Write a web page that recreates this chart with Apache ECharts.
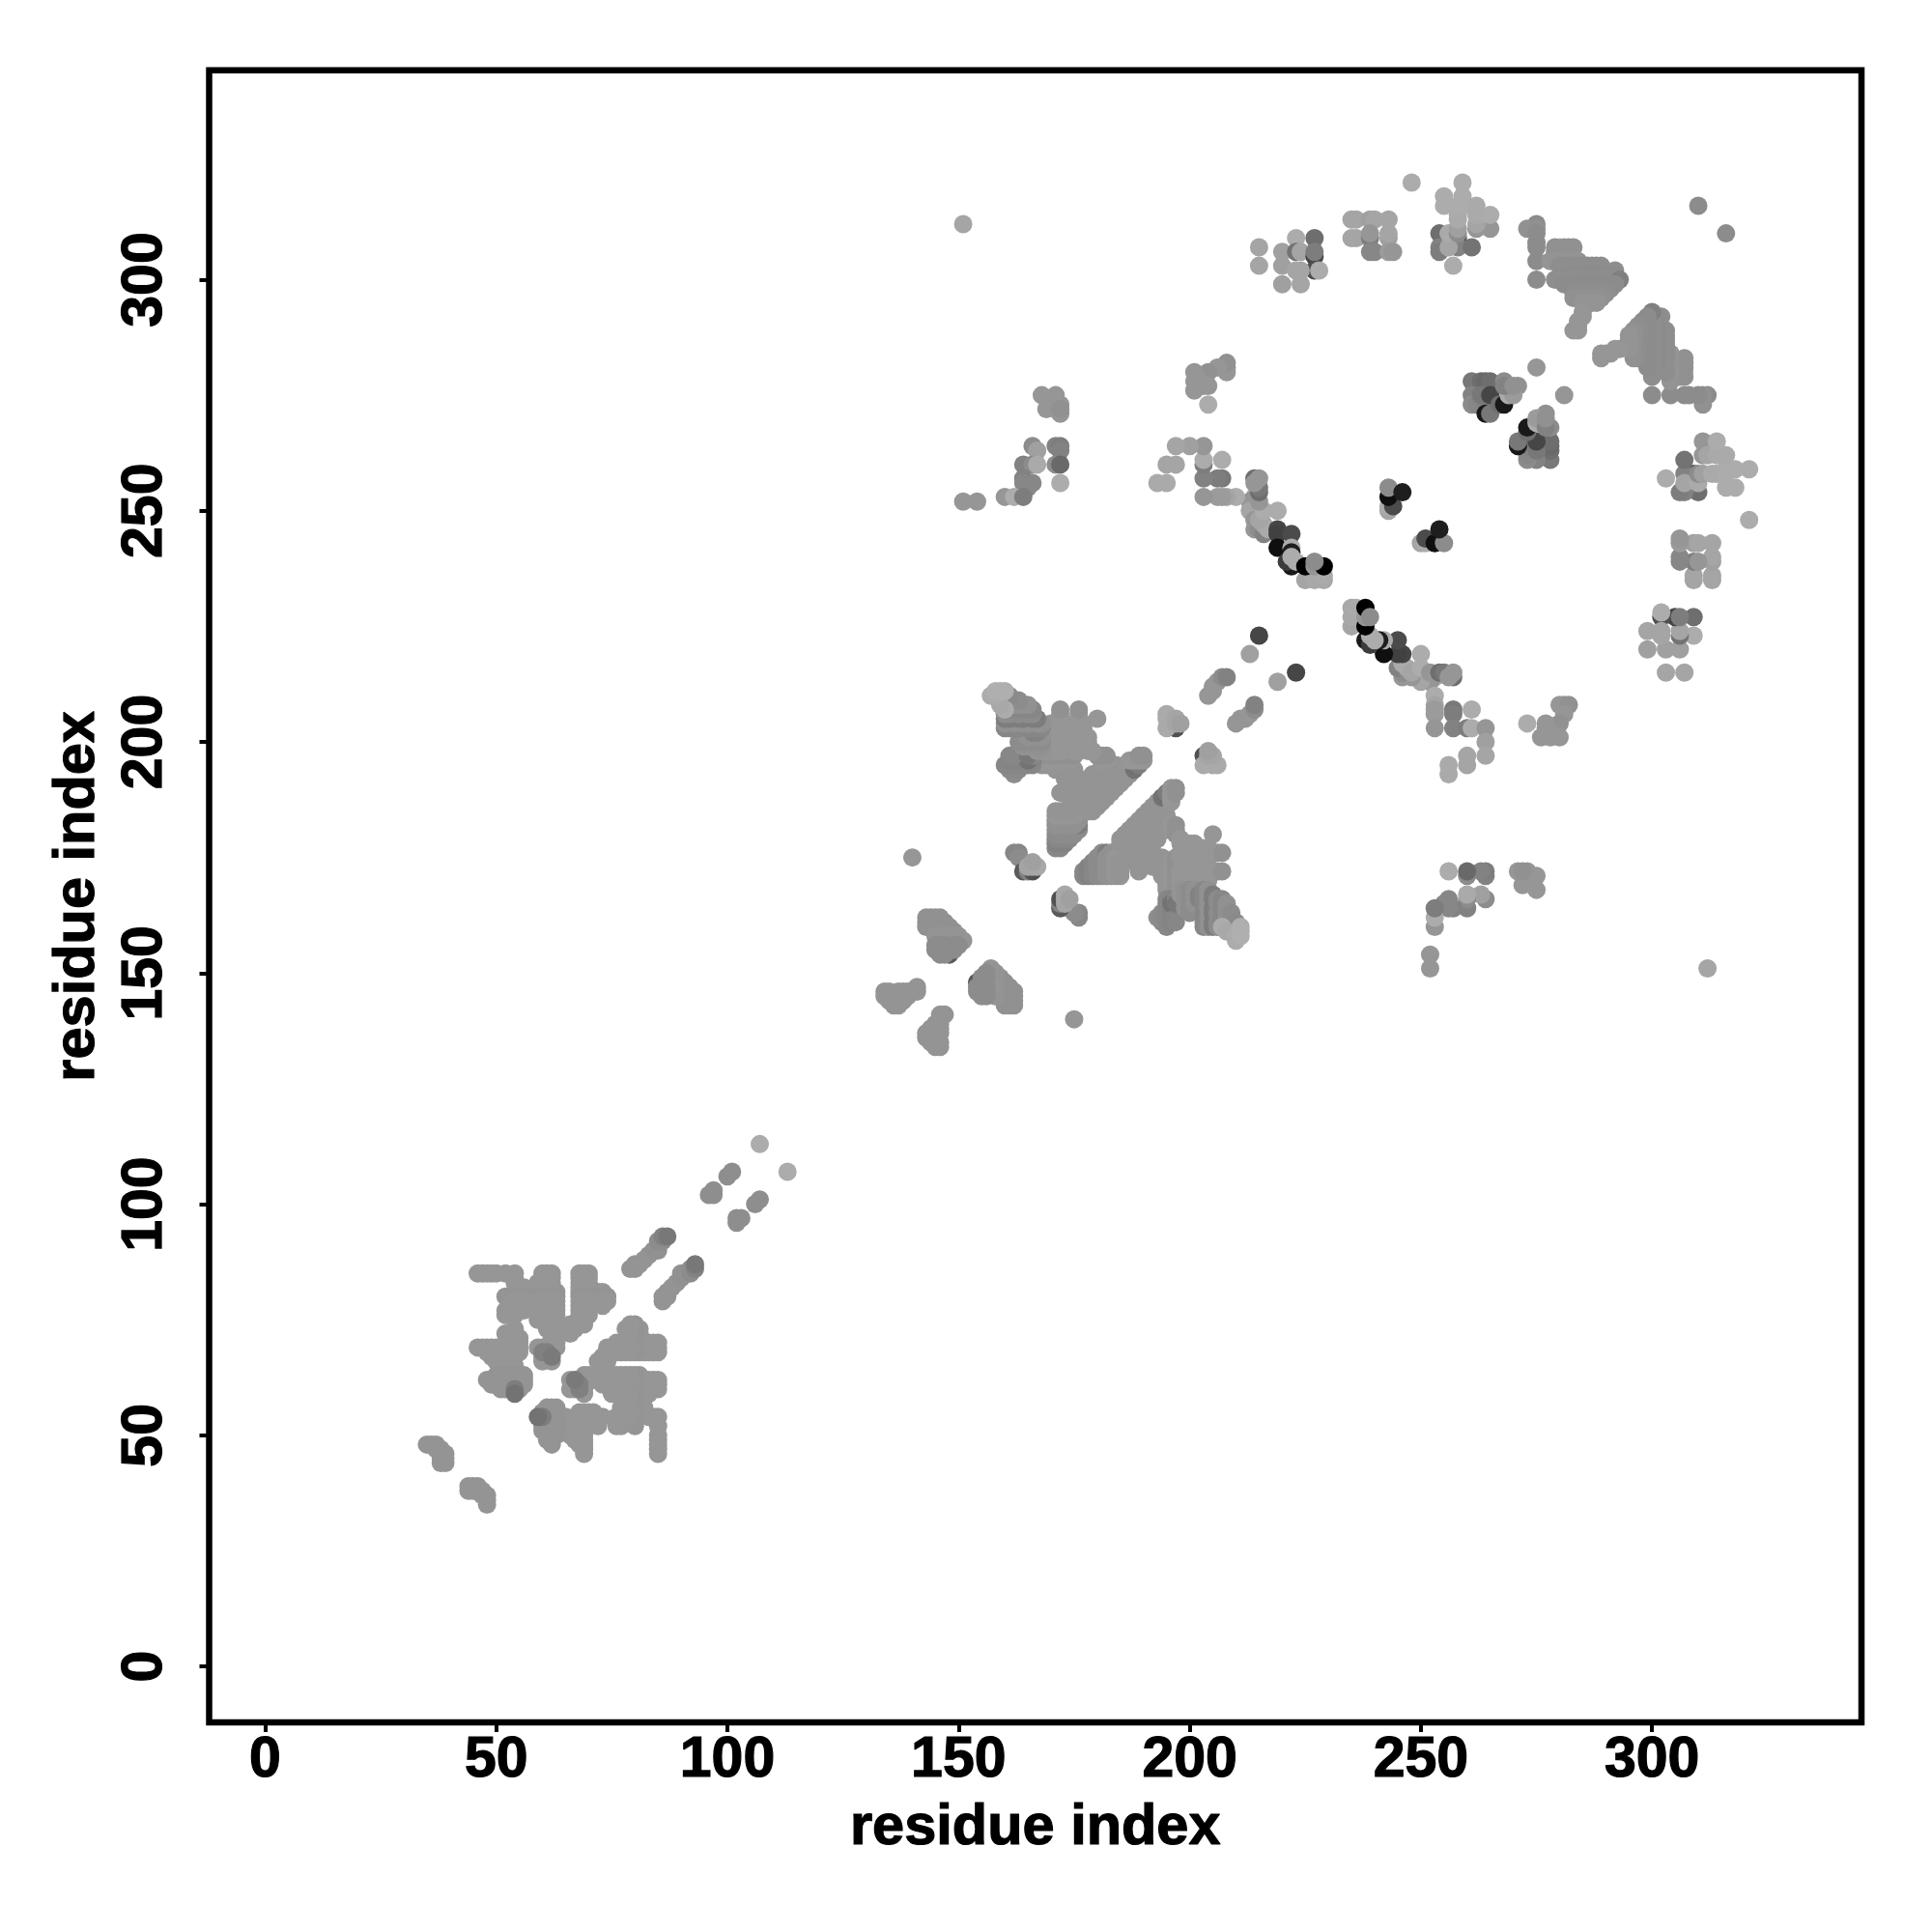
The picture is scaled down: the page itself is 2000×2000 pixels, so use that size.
<!DOCTYPE html>
<html><head><meta charset="utf-8">
<style>html,body{margin:0;padding:0;background:#fff}#c{width:2000px;height:2000px}</style>
<script src="https://cdn.jsdelivr.net/npm/echarts@6/dist/echarts.min.js"></script>
</head><body><div id="c"></div>
<script>
const tickValues = [0, 50, 100, 150, 200, 250, 300];
const axisTitle = "residue index";

// Contacts are residue pairs; rows read [higher residue, [lower residues], grey level]
const tailA = [[48,[35,36,37],148],[47,[37,38],148],[46,[38,39],148],[45,[38,39],148],[44,[38,39],148]];
const sheetA = [
 [85,[46,47,48,49,50,52,54,60,61,62,68,69,70],150],[84,[54,60,61,62,68,69,70],150],
 [83,[54,59,60,61,62,68,69,70],150],[82,[55,56,59,60,61,62,68,69,70],150],
 [81,[56,59,60,61,62,63,68,69,70,72,73],150],[80,[52,53,54,55,56,58,59,60,61,62,63,68,69,70,71,72,73,74],148],
 [79,[54,55,56,59,60,61,62,63,68,69,70,73,74],150],[78,[53,54,55,56,59,60,61,62,63,68,69,70,73],150],
 [77,[52,53,54,55,56,59,60,61,62,63,68,69,70],150],[76,[52,54,59,60,61,62,63,68,69,70],150],
 [75,[59,60,61,62,63,68,69],150],[74,[61,62,63,66,68,69],150],[73,[54,61,62,63,66,67],150],
 [72,[52,54,62,63,66],150],[71,[54,55,62],150],[70,[52,54,55,62,63],150],
 [69,[46,47,48,49,50,51,52,53,54,55,59,60,61,62,63],150],[68,[48,49,50,51,52,53,54,55,62],150],
 [67,[49,50,51,52,53,54,60,61],150],[66,[50,51,52,53,60,62],150],[65,[51,52,54],150],
 [63,[50,51,52,53,54,55,56],148],[62,[48,49,50,51,52,53,54,55,56],148],[61,[49,50,51,52,53,54,55,56],148],
 [60,[51,52,53,55],148],[60,[54],125],[59,[54],115],[68,[60,61],128],[67,[62],122]];
const strandA = [[86,[79,80],148],[87,[80,81],148],[88,[82],148],[89,[83],148],[90,[84,85],145],[91,[85],145],[92,[85,86],140],[93,[86],130],[93,[87],120],
 [102,[96,97],142],[103,[97],142],[106,[100],142],[107,[101],142],[113,[107],172]];
const sheetB = [[147,[141],148],[146,[134,135,137,138,139,140,141],148],[145,[134,135,136,137,138,139],148],[144,[135,136,137,138],148],[143,[136,137],148]];
const sheetC = [[156,[148],90],[155,[148],70],[154,[148],90],[162,[143,144,145,146],145],[161,[143,144,146,147],145],[160,[143,145,146,147,148],145],
 [159,[145,146,147,148,149],145],[158,[145,146,147,148,149,150],148],[157,[146,147,148,149,150,151],148],[156,[145,146,147,149,150],140],[155,[145,146,147,149],140],[154,[146,147],140]];
const diamondCore = [
 [185,[179,178],148],[186,[180,179,178],148],[187,[181,180,179,178,177,176],148],[188,[182,181,180,178,175,174],148],
 [189,[183,182,181,180,179,178,176,174,173,172],148],[190,[184,183,182,181,180,178,177,175],148],[191,[185,184,183,182,181,179,177,176,174],148],
 [192,[186,185,184,183,181,180,178,176,175,173],148],[193,[187,186,185,184,182,181,179,175,174,173],148],
 [194,[187,186,185,183,182,175,174,173,172,171],148],[195,[187,186,184,182,181,174,173,172,171,170,169,168],148],
 [194,[188],115],[195,[188],112],[195,[189],125],[196,[190,189,188,187,182,181,174,172,170,168],150],[197,[190,189,182,181,180,175,174,172,170,168],145],
 [198,[179,178,176,175,172,171,170,169],150],[199,[178,177,176,175,173,172,171,170,169],150],[200,[178,177,176,174,172,171,169],150],
 [201,[178,177,175,174,173,171,170],150],[202,[177,176,175,173,172,170,169],150],[203,[177,176,175,174,172,171,169],150],
 [204,[177,176,175,173,172,170],150],[205,[180,176,172],150],[206,[176,172],150],[207,[176,172],145]];
const diamondTriangle = [[177,[172,171],135],[178,[173,172,171],130],[179,[174,173,172,171],135],[180,[175,174,173,172,171],140],[181,[176,175,174,173,172,171],140],
 [182,[176],125],[182,[175,174,173,172,171],145],[183,[176,175,174,173,172,171],145],[184,[175,174,173,172,171],150],[185,[174,173,172,171],148]];
const diamondArm = [
 [193,[162],142],[194,[163,162,161],138],[195,[166,165,164,163,162,161,160],135],[196,[166,163,162,161],132],[196,[165],115],[197,[166,162,161],135],[197,[165],120],
 [198,[168,167],148],[199,[168,167,165,164],145],[200,[168,166,164,163],140],[201,[168,167,165],145],[202,[167,166],130],
 [203,[168,166,165,163,162,161,160],135],[204,[168,167,165,164,162,160],145],[205,[167,166,164,163,161,160],125],[206,[166,165,163,161,160],140],
 [207,[166,165,164,162,161],135],[208,[165,164,163,162,160],145],[209,[163,162,161,160,159],140],[210,[161,160,159],138],
 [207,[160],172],[208,[159],168],[210,[158,157],172],[211,[160,159,158],175]];
const nearDiamond = [[140,175,150],[162,176,135],[163,176,135],[163,175,140],[164,174,140],[164,172,90],[165,172,130],[166,172,80],[165,173,165],[166,173,165],[167,173,168],[166,174,160],
 [197,203,80],[195,206,170],[195,205,170],[195,203,170],[197,204,165],[197,205,165],[198,204,160],
 [204,210,150],[205,211,150],[205,212,150],[206,213,150],[207,214,140],[208,214,130],[213,219,160],[215,223,70]];
const strandB = [
 [214,253,160],[213,252,150],[215,250,100],[213,250,165],[214,248,150],[214,246,150],[215,246,140],[216,245,130],[216,247,165],[217,246,170],[215,248,165],[216,250,172],[219,250,172],
 [214,257,110],[215,252,150],[215,254,110],[215,255,120],[214,256,150],[215,257,150],
 [219,246,70],[219,245,65],[222,245,75],[219,242,15],[222,242,172],[222,241,30],
 [225,235,165],[227,235,168],[229,235,168],[229,236,170],[222,238,25],[221,239,60],[223,239,172],[222,240,172],[225,238,0],[227,238,150],[229,238,0],[227,239,140]];
const loopPairs = [[243,250,165],[243,251,170],[244,251,75],[243,253,15],[243,255,140],[246,254,30]];
const midLoop = [[210,253,172],[208,253,165],[207,253,155],[206,253,155],[203,253,150],[207,257,120],[206,257,125],[203,257,130],[203,260,125],[207,261,172],[203,261,172],
 [203,264,150],[200,264,160],[197,264,165],[197,260,165],[195,260,165],[195,256,170],[193,256,170],
 [208,281,145],[208,280,150],[208,282,145],[206,281,150],[204,280,145],[204,277,150],[203,277,150],[202,278,150],[201,276,150],[201,280,150],[201,278,150],[204,273,172]];
const cluster170 = [[172,271,150],[171,272,150],[169,272,150],[170,273,150],[172,273,150],[168,275,150],[171,275,150],[171,274,150],[172,272,145],
 [166,264,140],[171,264,130],[172,264,125],[172,263,130],[167,263,160],[164,260,130],[166,260,140],[171,260,140],[172,260,105],[167,260,170],[172,256,172],
 [164,257,130],[164,256,135],[166,256,135],[165,255,135],[160,253,150],[162,253,172],[164,253,125],[151,252,150],[154,252,150],[151,312,165]];
const cluster220 = [[215,307,165],[215,303,165],[220,306,160],[220,303,160],[220,299,160],[223,309,172],[227,309,110],[223,306,115],[224,306,165],[227,305,70],[227,306,125],[227,302,80],[223,302,165],[224,302,165],[228,302,172],[224,299,165]];
const cluster240 = [[235,313,165],[236,313,165],[239,313,160],[240,313,165],[243,313,165],[235,309,165],[236,309,165],[239,309,125],[239,310,150],[243,309,160],[243,310,165],[239,306,135],[240,306,135],[243,306,155],[244,306,150]];
const cluster260 = [[248,321,172],[254,310,110],[258,309,85],[254,307,130],[254,306,125],[258,307,130],[261,307,115],[257,303,172],[256,307,165],[256,310,170],[258,310,140],[262,311,150],[265,311,150],
 [258,311,160],[258,313,170],[258,314,170],[258,316,172],[255,316,172],[255,318,172],[259,318,172],[259,316,172],[259,321,172],[262,312,165],[262,314,170],[262,316,170],[265,314,172]];
const sheetD = [[312,[275],140],[311,[275,273],145],[310,[275],140],[308,[275],140],[307,[275],140],[304,[275],140],[300,[275],140],[307,[280],175],
 [307,[279,281,282,283],145],[306,[279,281,282],145],[305,[279,280,281],145],[304,[278,279,280,282,283,284],148],[303,[280,281,283,284,285,286,287,288,289],142],
 [302,[281,282,283,284,285,286,287,288,289,292],142],[301,[282,283,284,285,286,287,288,289,290,292],140],[300,[279,280,282,283,284,285,286,287,288,289,290,291,292],142],
 [300,[293],128],[299,[281,283,284,285,286,287,288,289,290,291,292],140],[298,[283,284,285,286,287,288,289,290,291],140],[297,[283,284,285,286,287,288,289,290],142],
 [296,[283,284,285,286,287,288,289],145],[295,[285,286,287,288],148],[293,[285],150],[292,[285],150],[291,[284],150],[290,[284],150],[289,[283,284],150],[316,[310],140]];
const darkBlob = [[261,278,120],[263,278,110],[264,278,105],[265,278,110],[268,278,140],[271,277,145],[261,275,130],[261,273,140],[262,273,135],[264,273,130],[264,271,25],[265,271,120],
 [263,275,120],[265,275,70],[267,273,110],[268,273,25],[269,275,172],[270,275,155],[268,277,130],[275,281,150],[270,277,145]];

function fromRows(rows) { return rows.flatMap(r => r[1].map(s => [s, r[0], r[2]])); }
const contacts = [].concat(
  fromRows(tailA), fromRows(sheetA), fromRows(strandA), fromRows(sheetB), fromRows(sheetC),
  fromRows(diamondTriangle), fromRows(diamondCore), fromRows(diamondArm), nearDiamond,
  strandB, loopPairs, midLoop, cluster170, cluster220, cluster240, cluster260,
  fromRows(sheetD), darkBlob);
function toPoint(x, y, g) { return { value: [x, y], itemStyle: { color: `rgb(${g},${g},${g})`, opacity: 1 } }; }
const points = contacts.flatMap(c => [toPoint(c[0], c[1], c[2]), toPoint(c[1], c[0], c[2])]);

const labelFont = { fontFamily: 'Liberation Sans', fontWeight: 'bold', fontSize: 59, color: '#000', textBorderColor: '#000', textBorderWidth: 1.2 };
const axisBase = {
  type: 'value', min: -12.1, max: 345.3, splitLine: { show: false },
  name: axisTitle, nameLocation: 'middle',
  nameTextStyle: { fontFamily: 'Liberation Sans', fontWeight: 'bold', fontSize: 59.5, color: '#000', textBorderColor: '#000', textBorderWidth: 1.2 },
  axisLine: { show: false, onZero: false },
  axisTick: { show: true, length: 10, inside: false, customValues: tickValues, lineStyle: { color: '#000', width: 4 } }
};
const chart = echarts.init(document.getElementById('c'), null, { renderer: 'canvas' });
chart.setOption({
  animation: false, backgroundColor: '#fff',
  grid: { left: 216.5, right: 73, top: 72.7, bottom: 217, show: true, borderColor: '#000', borderWidth: 6.5, backgroundColor: '#fff' },
  xAxis: Object.assign({}, axisBase, { nameGap: 80,
    axisLabel: Object.assign({ customValues: tickValues, margin: 10 }, labelFont) }),
  yAxis: Object.assign({}, axisBase, { nameGap: 106,
    axisLabel: Object.assign({ customValues: tickValues, rotate: 90, margin: 36 }, labelFont) }),
  series: [{ type: 'scatter', symbol: 'circle', symbolSize: 19, data: points, silent: true, itemStyle: { opacity: 1 }, progressive: 0 }]
});
</script></body></html>
